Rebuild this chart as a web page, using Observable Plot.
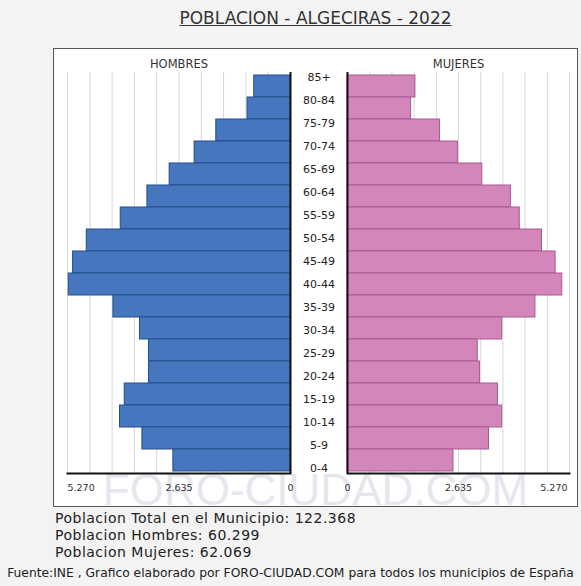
<!DOCTYPE html>
<html>
<head>
<meta charset="utf-8">
<script src="https://cdn.jsdelivr.net/npm/d3@7"></script>
<script src="https://cdn.jsdelivr.net/npm/@observablehq/plot@0.6"></script>
<style>
  html, body { margin: 0; padding: 0; background: #f3f3f3; }
  #root { position: relative; width: 581px; height: 586px; background: #f3f3f3; overflow: hidden; font-family: "DejaVu Sans", Verdana, sans-serif; color: #333; }
  .abs { position: absolute; }
  #title { left: 53px; width: 525px; top: 8px; text-align: center; font-size: 17px; text-decoration: underline; color: #333; }
  #box { left: 53px; top: 48px; width: 525px; height: 459px; box-sizing: border-box; border: 1px solid #555; background: #fff; }
  #wm { left: 53px; width: 525px; top: 465px; text-align: center; font-family: "Liberation Sans", Arial, sans-serif; font-size: 44px; color: #e6e6ee; white-space: nowrap; }
  .info { left: 55px; font-size: 14px; letter-spacing: 0.5px; color: #222; white-space: nowrap; }
  #src { left: 0; width: 581px; text-align: center; top: 566px; font-size: 12.3px; color: #222; white-space: nowrap; }
</style>
</head>
<body>
<div id="root">
  <div id="title" class="abs">POBLACION - ALGECIRAS - 2022</div>
  <div id="box" class="abs"></div>
  <div id="wm" class="abs">FORO-CIUDAD.COM</div>
  <div class="abs info" style="top:510px">Poblacion Total en el Municipio: 122.368</div>
  <div class="abs info" style="top:527px">Poblacion Hombres: 60.299</div>
  <div class="abs info" style="top:544px">Poblacion Mujeres: 62.069</div>
  <div id="src" class="abs">Fuente:INE , Grafico elaborado por FORO-CIUDAD.COM para todos los municipios de España</div>
</div>
<script>
// Age groups, top to bottom
const ages = ["85+","80-84","75-79","70-74","65-69","60-64","55-59","50-54","45-49","40-44","35-39","30-34","25-29","20-24","15-19","10-14","5-9","0-4"];
const hombres = [857, 1015, 1754, 2266, 2856, 3382, 4012, 4815, 5138, 5240, 4185, 3557, 3344, 3344, 3918, 4029, 3500, 2768];
const mujeres = [1612, 1510, 2195, 2620, 3200, 3878, 4090, 4617, 4940, 5098, 4461, 3672, 3092, 3146, 3571, 3672, 3358, 2516];
const xMax = 5270;
const labelTicks = [0, 2635];
const endTick = [5270];
const gridTicks = [527, 1054, 1581, 2108, 2635, 3162, 3689, 4216, 4743, 5270];
const seriesLabels = ["HOMBRES", "MUJERES"];

const menData = ages.map((a, i) => ({age: a, value: hombres[i]}));
const womenData = ages.map((a, i) => ({age: a, value: mujeres[i]}));

const fmt = d3.formatLocale({decimal: ",", thousands: ".", grouping: [3], currency: ["", ""]}).format(",d");

const H = 459, MT = 24, MB = 34;
const common = {
  height: H,
  marginTop: MT,
  marginBottom: MB,
  y: {domain: ages, padding: 0, axis: null},
  style: {background: "transparent", fontFamily: "DejaVu Sans, sans-serif", fontSize: "9.5px", color: "#333", overflow: "visible"}
};
const axisOpts = {tickSize: 0, tickPadding: 11, tickFormat: fmt, fontSize: 9.5, label: null};

const left = Plot.plot({
  ...common,
  width: 240,
  marginLeft: 14,
  marginRight: 3,
  x: {domain: [0, xMax], reverse: true, axis: null, label: null},
  marks: [
    Plot.gridX(gridTicks, {stroke: "#d8d8d8", strokeOpacity: 1}),
    Plot.barX(menData, {x: "value", y: "age", fill: "#4676bd", stroke: "#234f8a", strokeWidth: 1}),
    Plot.ruleX([0], {stroke: "#111", strokeWidth: 2}),
    Plot.frame({anchor: "bottom", stroke: "#111", strokeWidth: 2}),
    Plot.axisX(labelTicks, {...axisOpts}),
    Plot.axisX(endTick, {...axisOpts, textAnchor: "start"}),
    Plot.text([seriesLabels[0]], {frameAnchor: "top", dy: -13, fontSize: 11.5, fill: "#333"})
  ]
});

const mid = Plot.plot({
  ...common,
  width: 51,
  marginLeft: 0,
  marginRight: 0,
  marks: [
    Plot.text(ages, {y: d => d, frameAnchor: "middle", fontSize: 11, fill: "#222"})
  ]
});

const right = Plot.plot({
  ...common,
  width: 234,
  marginLeft: 3,
  marginRight: 9,
  x: {domain: [0, xMax], axis: null, label: null},
  marks: [
    Plot.gridX(gridTicks, {stroke: "#d8d8d8", strokeOpacity: 1}),
    Plot.barX(womenData, {x: "value", y: "age", fill: "#d386b9", stroke: "#a95893", strokeWidth: 1}),
    Plot.ruleX([0], {stroke: "#1a0d1a", strokeWidth: 2}),
    Plot.frame({anchor: "bottom", stroke: "#111", strokeWidth: 2}),
    Plot.axisX(labelTicks, {...axisOpts}),
    Plot.axisX(endTick, {...axisOpts, textAnchor: "end", dx: -2}),
    Plot.text([seriesLabels[1]], {frameAnchor: "top", dy: -13, fontSize: 11.5, fill: "#333"})
  ]
});

const root = document.getElementById("root");
[[left, 53], [mid, 293], [right, 344]].forEach(([p, x]) => {
  p.style.position = "absolute";
  p.style.left = x + "px";
  p.style.top = "48px";
  root.appendChild(p);
});
</script>
</body>
</html>
